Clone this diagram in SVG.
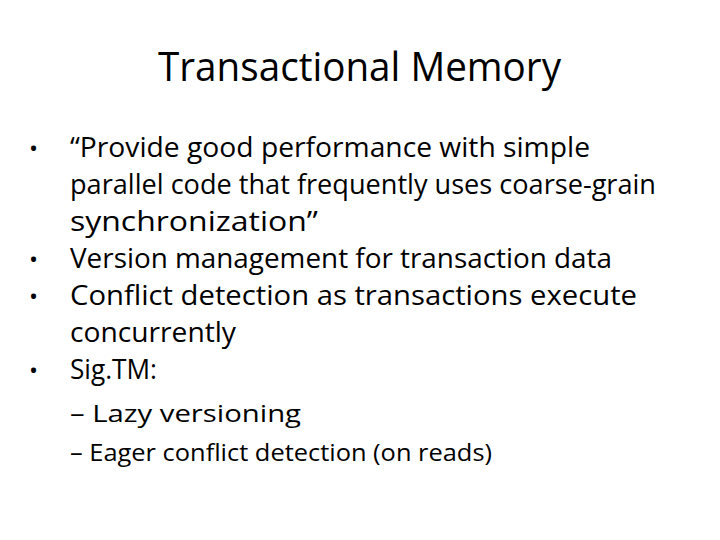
<svg xmlns="http://www.w3.org/2000/svg" width="720" height="540" viewBox="0 0 720 540">
<style>
text{font-family:"Open Sans","Liberation Sans",sans-serif;fill:#000}
.b{font-size:28px}
.s{font-size:23px}
.d{font-size:24px}
</style>
<rect width="720" height="540" fill="#fff"/>
<g id="title"><text x="158" y="81" font-size="40" textLength="403" lengthAdjust="spacingAndGlyphs">Transactional Memory</text></g>
<g id="body">
<text class="d" x="29" y="157">•</text>
<text class="b" x="70" y="157" textLength="520" lengthAdjust="spacingAndGlyphs">“Provide good performance with simple</text>
<text class="b" x="70" y="194" textLength="586" lengthAdjust="spacingAndGlyphs">parallel code that frequently uses coarse-grain</text>
<text class="b" x="70" y="231" textLength="248" lengthAdjust="spacingAndGlyphs">synchronization”</text>
<text class="d" x="29" y="268">•</text>
<text class="b" x="70" y="268" textLength="542" lengthAdjust="spacingAndGlyphs">Version management for transaction data</text>
<text class="d" x="29" y="305">•</text>
<text class="b" x="70" y="305" textLength="567" lengthAdjust="spacingAndGlyphs">Conflict detection as transactions execute</text>
<text class="b" x="70" y="342" textLength="166" lengthAdjust="spacingAndGlyphs">concurrently</text>
<text class="d" x="29" y="379">•</text>
<text class="b" x="70" y="379" textLength="87" lengthAdjust="spacingAndGlyphs">Sig.TM:</text>
<text class="s" x="70" y="422" textLength="231" lengthAdjust="spacingAndGlyphs">– Lazy versioning</text>
<text class="s" x="70" y="461" textLength="422" lengthAdjust="spacingAndGlyphs">– Eager conflict detection (on reads)</text>
</g>
</svg>
